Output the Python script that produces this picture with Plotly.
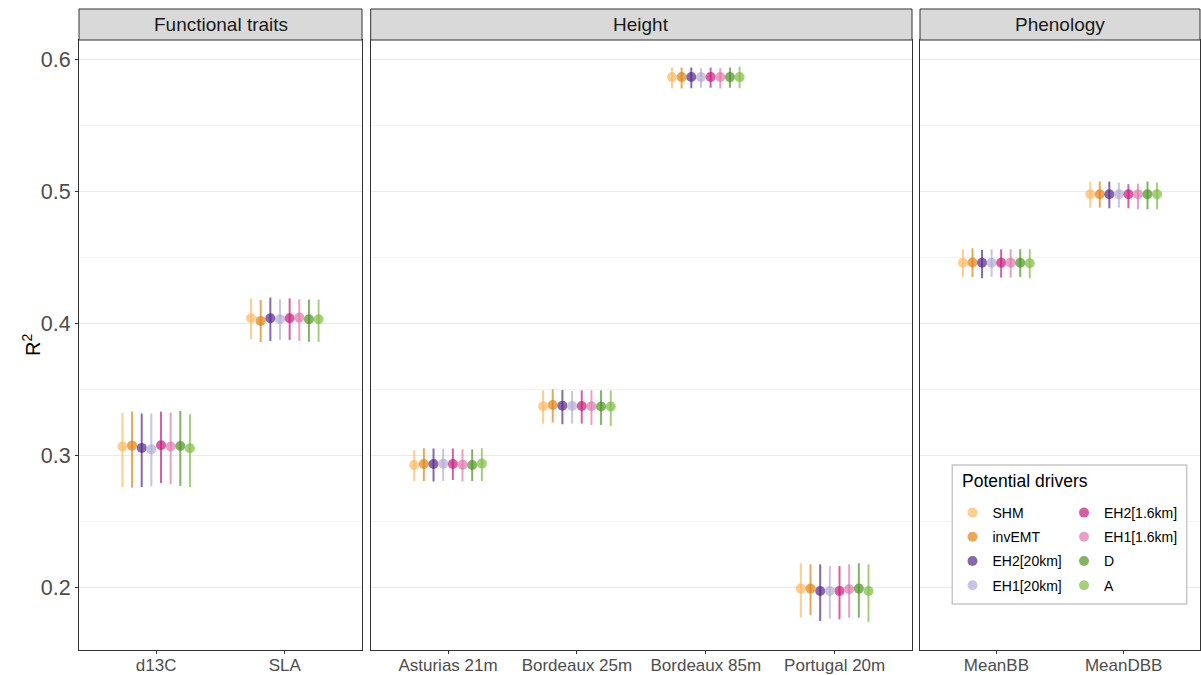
import plotly.graph_objects as go

# ---------------- data ----------------
drivers = ["SHM", "invEMT", "EH2[20km]", "EH1[20km]", "EH2[1.6km]", "EH1[1.6km]", "D", "A"]
colors = ["#fdb863", "#e08214", "#542788", "#b2abd2", "#c51b7d", "#de77ae", "#4d9221", "#7fbc41"]

facets = ["Functional traits", "Height", "Phenology"]
facet_categories = [
    ["d13C", "SLA"],
    ["Asturias 21m", "Bordeaux 25m", "Bordeaux 85m", "Portugal 20m"],
    ["MeanBB", "MeanDBB"],
]

# R2 estimate per category (rows) and driver (columns, same order as `drivers`)
r2_mid = {
    "d13C":         [0.3066, 0.3073, 0.3056, 0.3045, 0.3076, 0.3066, 0.3070, 0.3053],
    "SLA":          [0.4038, 0.4018, 0.4038, 0.4030, 0.4038, 0.4043, 0.4030, 0.4030],
    "Asturias 21m": [0.2927, 0.2934, 0.2934, 0.2936, 0.2934, 0.2929, 0.2927, 0.2937],
    "Bordeaux 25m": [0.3371, 0.3381, 0.3376, 0.3374, 0.3374, 0.3371, 0.3369, 0.3369],
    "Bordeaux 85m": [0.5865, 0.5866, 0.5866, 0.5865, 0.5866, 0.5866, 0.5865, 0.5865],
    "Portugal 20m": [0.1990, 0.1990, 0.1972, 0.1972, 0.1972, 0.1985, 0.1990, 0.1972],
    "MeanBB":       [0.4458, 0.4460, 0.4458, 0.4458, 0.4458, 0.4458, 0.4458, 0.4455],
    "MeanDBB":      [0.4977, 0.4977, 0.4977, 0.4977, 0.4977, 0.4977, 0.4977, 0.4977],
}
r2_low = {
    "d13C":         [0.2760, 0.2755, 0.2760, 0.2765, 0.2790, 0.2780, 0.2768, 0.2760],
    "SLA":          [0.3879, 0.3858, 0.3866, 0.3874, 0.3874, 0.3866, 0.3860, 0.3860],
    "Asturias 21m": [0.2805, 0.2805, 0.2801, 0.2805, 0.2813, 0.2801, 0.2805, 0.2805],
    "Bordeaux 25m": [0.3240, 0.3248, 0.3235, 0.3240, 0.3240, 0.3230, 0.3230, 0.3222],
    "Bordeaux 85m": [0.5780, 0.5778, 0.5780, 0.5785, 0.5785, 0.5778, 0.5785, 0.5780],
    "Portugal 20m": [0.1770, 0.1788, 0.1745, 0.1763, 0.1758, 0.1770, 0.1770, 0.1737],
    "MeanBB":       [0.4351, 0.4351, 0.4341, 0.4351, 0.4346, 0.4346, 0.4351, 0.4341],
    "MeanDBB":      [0.4876, 0.4876, 0.4871, 0.4876, 0.4871, 0.4864, 0.4864, 0.4864],
}
r2_high = {
    "d13C":         [0.3323, 0.3331, 0.3316, 0.3316, 0.3331, 0.3323, 0.3336, 0.3311],
    "SLA":          [0.4189, 0.4177, 0.4195, 0.4182, 0.4189, 0.4182, 0.4180, 0.4180],
    "Asturias 21m": [0.3040, 0.3053, 0.3051, 0.3051, 0.3051, 0.3045, 0.3045, 0.3053],
    "Bordeaux 25m": [0.3492, 0.3500, 0.3495, 0.3487, 0.3492, 0.3492, 0.3492, 0.3492],
    "Bordeaux 85m": [0.5937, 0.5937, 0.5937, 0.5932, 0.5937, 0.5932, 0.5937, 0.5944],
    "Portugal 20m": [0.2182, 0.2174, 0.2174, 0.2161, 0.2161, 0.2174, 0.2182, 0.2174],
    "MeanBB":       [0.4561, 0.4568, 0.4555, 0.4561, 0.4561, 0.4561, 0.4561, 0.4561],
    "MeanDBB":      [0.5074, 0.5074, 0.5074, 0.5066, 0.5053, 0.5058, 0.5074, 0.5066],
}

y_ticks = [0.2, 0.3, 0.4, 0.5, 0.6]

# ---------------- layout helpers ----------------
W, H = 1201, 675
ML, MR, MT, MB = 79, 1, 40, 25
PW = W - ML - MR
PH = H - MT - MB


def px_x(p):
    return (p - ML) / PW


def px_y(p):
    return (H - MB - p) / PH


domains = [
    [px_x(79), px_x(362)],
    [px_x(370.7), px_x(912)],
    [px_x(920), 1.0],
]

ALPHA = 0.7
DODGE = 0.6


def rgba(hexc, a):
    h = hexc.lstrip("#")
    r, g, b = int(h[0:2], 16), int(h[2:4], 16), int(h[4:6], 16)
    return f"rgba({r},{g},{b},{a})"


fig = go.Figure()
n = len(drivers)
for fi, cats in enumerate(facet_categories):
    ax = "" if fi == 0 else str(fi + 1)
    for di, drv in enumerate(drivers):
        off = (di - (n - 1) / 2) * DODGE / n
        xs = [ci + 1 + off for ci in range(len(cats))]
        mids = [r2_mid[c][di] for c in cats]
        ups = [r2_high[c][di] - r2_mid[c][di] for c in cats]
        dns = [r2_mid[c][di] - r2_low[c][di] for c in cats]
        fig.add_trace(go.Scatter(
            x=xs, y=mids, mode="markers",
            name=drv,
            legendgroup=drv,
            legend="legend" if di < 4 else "legend2",
            showlegend=(fi == 0),
            marker=dict(size=10, color=rgba(colors[di], ALPHA), line=dict(width=0)),
            error_y=dict(type="data", symmetric=False, array=ups, arrayminus=dns,
                         width=0, thickness=2, color=rgba(colors[di], ALPHA)),
            xaxis="x" + ax, yaxis="y" + ax,
            hovertemplate=drv + ": %{y:.3f}<extra></extra>",
        ))

FONT = "Liberation Sans"
tick_col = "#4d4d4d"
frame_col = "#333333"
grid_col = "#ebebeb"

layout = dict(
    width=W, height=H,
    margin=dict(l=ML, r=MR, t=MT, b=MB, autoexpand=False),
    paper_bgcolor="white", plot_bgcolor="white",
    font=dict(family=FONT, color=tick_col),
    shapes=[], annotations=[],
)

y_range = [0.1525, 0.6146]
for fi, cats in enumerate(facet_categories):
    ax = "" if fi == 0 else str(fi + 1)
    layout["xaxis" + ax] = dict(
        domain=domains[fi], range=[0.4, len(cats) + 0.6],
        tickvals=list(range(1, len(cats) + 1)), ticktext=cats,
        showgrid=False, zeroline=False,
        showline=True, mirror=True, linecolor=frame_col, linewidth=1,
        ticks="outside", ticklen=3, tickcolor=frame_col, tickwidth=1,
        ticklabelstandoff=-3,
        tickfont=dict(size=17, color=tick_col, family=FONT),
        anchor="y" + ax, fixedrange=True, automargin=False,
    )
    ydict = dict(
        range=y_range, domain=[0, 1],
        tickvals=y_ticks, ticktext=[f"{v:.1f}" for v in y_ticks],
        showgrid=True, gridcolor=grid_col, gridwidth=1,
        minor=dict(tickvals=[0.25, 0.35, 0.45, 0.55], showgrid=True,
                   gridcolor="#f3f3f3", gridwidth=0.6, ticks=""),
        zeroline=False,
        showline=True, mirror=True, linecolor=frame_col, linewidth=1,
        anchor="x" + ax, fixedrange=True, automargin=False,
    )
    if fi == 0:
        ydict.update(ticks="outside", ticklen=3, tickcolor=frame_col, tickwidth=1,
                     tickfont=dict(size=21.5, color=tick_col, family=FONT))
    else:
        ydict.update(matches="y", showticklabels=False, ticks="")
    layout["yaxis" + ax] = ydict

    # facet strip
    layout["shapes"].append(dict(
        type="rect", xref="paper", yref="paper",
        x0=domains[fi][0], x1=domains[fi][1], y0=1.0, y1=px_y(9),
        fillcolor="#d9d9d9", line=dict(color=frame_col, width=1), layer="above",
    ))
    layout["annotations"].append(dict(
        text=facets[fi], xref="paper", yref="paper",
        x=(domains[fi][0] + domains[fi][1]) / 2, y=(1.0 + px_y(9)) / 2,
        xanchor="center", yanchor="middle", showarrow=False,
        font=dict(size=19, color="#1a1a1a", family=FONT),
    ))

# y axis title
layout["annotations"].append(dict(
    text="R<sup>2</sup>", xref="paper", yref="paper",
    x=px_x(31), y=px_y(345), xanchor="center", yanchor="middle",
    textangle=-90, showarrow=False, font=dict(size=20, color="black", family=FONT),
))

# legend box + title
layout["shapes"].append(dict(
    type="rect", xref="paper", yref="paper",
    x0=px_x(952.3), x1=px_x(1186.7), y0=px_y(604), y1=px_y(465),
    fillcolor="white", line=dict(color="#c8c8c8", width=1.5), layer="above",
))
layout["annotations"].append(dict(
    text="Potential drivers", xref="paper", yref="paper",
    x=px_x(960), y=px_y(481), xanchor="left", yanchor="middle",
    showarrow=False, font=dict(size=17.5, color="black", family=FONT),
))

leg_common = dict(
    bgcolor="rgba(0,0,0,0)", borderwidth=0,
    font=dict(size=14, color="black", family=FONT),
    traceorder="grouped", tracegroupgap=3,
    xanchor="left", yanchor="top", orientation="v",
)
layout["legend"] = dict(leg_common, x=px_x(952.5), y=px_y(497))
layout["legend2"] = dict(leg_common, x=px_x(1064), y=px_y(497))

fig.update_layout(**layout)
fig.write_html("out.html", config={"displayModeBar": False},
               post_script="document.body.style.margin='0';")
